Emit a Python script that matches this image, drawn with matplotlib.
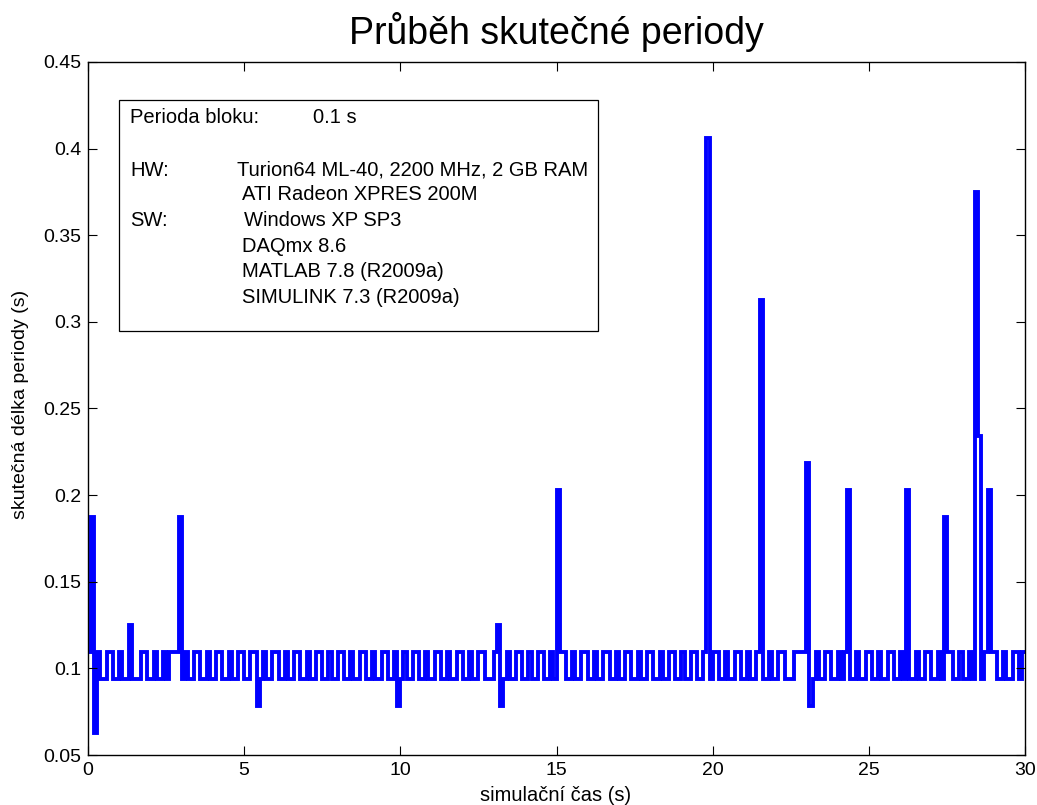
import numpy as np
import matplotlib
matplotlib.use('Agg')
import matplotlib.pyplot as plt
from matplotlib.patches import Rectangle

plt.rcParams['font.family'] = ['Liberation Sans', 'DejaVu Sans']

# ---------------- data ----------------
sample_period = 0.1  # s, block period

period_s = [
    0.109375, 0.1875, 0.0625, 0.109375, 0.09375, 0.09375, 0.109375, 0.109375, 0.09375, 0.09375,
    0.109375, 0.09375, 0.09375, 0.125, 0.09375, 0.09375, 0.09375, 0.109375, 0.109375, 0.09375,
    0.09375, 0.109375, 0.09375, 0.09375, 0.109375, 0.09375, 0.109375, 0.109375, 0.109375, 0.1875,
    0.09375, 0.109375, 0.09375, 0.09375, 0.109375, 0.109375, 0.09375, 0.09375, 0.109375, 0.09375,
    0.09375, 0.109375, 0.109375, 0.09375, 0.09375, 0.109375, 0.09375, 0.09375, 0.109375, 0.109375,
    0.09375, 0.09375, 0.109375, 0.109375, 0.078125, 0.09375, 0.109375, 0.09375, 0.09375, 0.109375,
    0.109375, 0.09375, 0.09375, 0.109375, 0.09375, 0.09375, 0.109375, 0.109375, 0.09375, 0.09375,
    0.109375, 0.09375, 0.09375, 0.109375, 0.109375, 0.09375, 0.09375, 0.109375, 0.09375, 0.09375,
    0.109375, 0.109375, 0.09375, 0.09375, 0.109375, 0.09375, 0.09375, 0.109375, 0.109375, 0.09375,
    0.09375, 0.109375, 0.09375, 0.09375, 0.109375, 0.109375, 0.09375, 0.09375, 0.109375, 0.078125,
    0.09375, 0.109375, 0.09375, 0.09375, 0.109375, 0.109375, 0.09375, 0.09375, 0.109375, 0.09375,
    0.09375, 0.109375, 0.109375, 0.09375, 0.09375, 0.109375, 0.09375, 0.09375, 0.109375, 0.109375,
    0.09375, 0.09375, 0.109375, 0.09375, 0.09375, 0.109375, 0.109375, 0.09375, 0.09375, 0.09375,
    0.109375, 0.125, 0.078125, 0.09375, 0.109375, 0.09375, 0.09375, 0.109375, 0.109375, 0.09375,
    0.09375, 0.109375, 0.09375, 0.09375, 0.109375, 0.109375, 0.09375, 0.09375, 0.109375, 0.09375,
    0.203125, 0.109375, 0.109375, 0.09375, 0.09375, 0.109375, 0.09375, 0.09375, 0.109375, 0.109375,
    0.09375, 0.09375, 0.109375, 0.09375, 0.09375, 0.109375, 0.109375, 0.09375, 0.09375, 0.109375,
    0.09375, 0.09375, 0.109375, 0.109375, 0.09375, 0.09375, 0.109375, 0.09375, 0.09375, 0.109375,
    0.109375, 0.09375, 0.09375, 0.109375, 0.09375, 0.09375, 0.109375, 0.109375, 0.09375, 0.09375,
    0.109375, 0.09375, 0.09375, 0.109375, 0.109375, 0.09375, 0.09375, 0.109375, 0.40625, 0.09375,
    0.109375, 0.109375, 0.09375, 0.09375, 0.109375, 0.09375, 0.09375, 0.109375, 0.109375, 0.09375,
    0.09375, 0.109375, 0.09375, 0.09375, 0.109375, 0.3125, 0.09375, 0.09375, 0.109375, 0.09375,
    0.09375, 0.109375, 0.109375, 0.09375, 0.09375, 0.09375, 0.109375, 0.109375, 0.109375, 0.109375,
    0.21875, 0.078125, 0.09375, 0.109375, 0.09375, 0.09375, 0.109375, 0.109375, 0.09375, 0.09375,
    0.109375, 0.09375, 0.109375, 0.203125, 0.09375, 0.09375, 0.109375, 0.09375, 0.09375, 0.109375,
    0.109375, 0.09375, 0.09375, 0.109375, 0.09375, 0.09375, 0.109375, 0.109375, 0.09375, 0.09375,
    0.109375, 0.09375, 0.203125, 0.09375, 0.09375, 0.109375, 0.09375, 0.09375, 0.109375, 0.109375,
    0.09375, 0.09375, 0.109375, 0.09375, 0.1875, 0.109375, 0.109375, 0.09375, 0.09375, 0.109375,
    0.09375, 0.09375, 0.109375, 0.09375, 0.375, 0.234375, 0.09375, 0.109375, 0.203125, 0.109375,
    0.109375, 0.09375, 0.09375, 0.109375, 0.09375, 0.09375, 0.109375, 0.109375, 0.09375, 0.109375,
]

x_ticks = [0, 5, 10, 15, 20, 25, 30]
x_tick_labels = ['0', '5', '10', '15', '20', '25', '30']
y_ticks = [0.05, 0.1, 0.15, 0.2, 0.25, 0.3, 0.35, 0.4, 0.45]
y_tick_labels = ['0.05', '0.1', '0.15', '0.2', '0.25', '0.3', '0.35', '0.4', '0.45']

title_text = 'Průběh skutečné periody'
x_label = 'simulační čas (s)'
y_label = 'skutečná délka periody (s)'

info_left = ['Perioda bloku:', 'HW:', 'SW:']
info_right = ['0.1 s',
              'Turion64 ML-40, 2200 MHz, 2 GB RAM',
              'ATI Radeon XPRES 200M',
              'Windows XP SP3',
              'DAQmx 8.6',
              'MATLAB 7.8 (R2009a)',
              'SIMULINK 7.3 (R2009a)']

# ---------------- figure ----------------
W, H = 1037, 805
fig = plt.figure(figsize=(W / 100, H / 100), dpi=100)
fig.patch.set_facecolor('white')

def fx(px):
    return px / W

def fy(py):
    return 1 - py / H

ax_l, ax_r, ax_t, ax_b = 88, 1025, 62, 755
ax = fig.add_axes([fx(ax_l), fy(ax_b), (ax_r - ax_l) / W, (ax_b - ax_t) / H])

edges = np.arange(len(period_s) + 1) * sample_period
ax.stairs(period_s, edges, baseline=None, color='#0000ff', linewidth=2.8)

ax.set_xlim(0, 30)
ax.set_ylim(0.05, 0.45)
ax.set_xticks(x_ticks)
ax.set_xticklabels(x_tick_labels)
ax.set_yticks(y_ticks)
ax.set_yticklabels(y_tick_labels)
ax.tick_params(direction='in', length=6.5, width=0.8, top=True, right=True,
               labelsize=14, pad=5, colors='black')
for s in ax.spines.values():
    s.set_linewidth(1.0)
    s.set_color('black')

fs = 14.5
fig.text(fx(556), fy(44), title_text, ha='center', va='baseline', fontsize=27)
fig.text(fx(556), fy(801), x_label, ha='center', va='baseline', fontsize=fs)
fig.text(fx(20.5), fy(404), y_label, ha='center', va='center', rotation=90, fontsize=14)

# info box
fig.add_artist(Rectangle((fx(119), fy(331)), (598 - 119) / W, (331 - 100) / H,
                         transform=fig.transFigure, fill=False, edgecolor='black',
                         linewidth=0.9))
left_pos = [(130, 123), (130, 176), (130, 226)]
right_pos = [(313, 123), (237, 176), (242, 200), (244, 226), (242, 252), (242, 277), (242, 303)]
for txt, (px, py) in zip(info_left, left_pos):
    fig.text(fx(px), fy(py), txt, ha='left', va='baseline', fontsize=fs)
for txt, (px, py) in zip(info_right, right_pos):
    fig.text(fx(px), fy(py), txt, ha='left', va='baseline', fontsize=fs)

fig.savefig('out.png', dpi=100, facecolor='white')
